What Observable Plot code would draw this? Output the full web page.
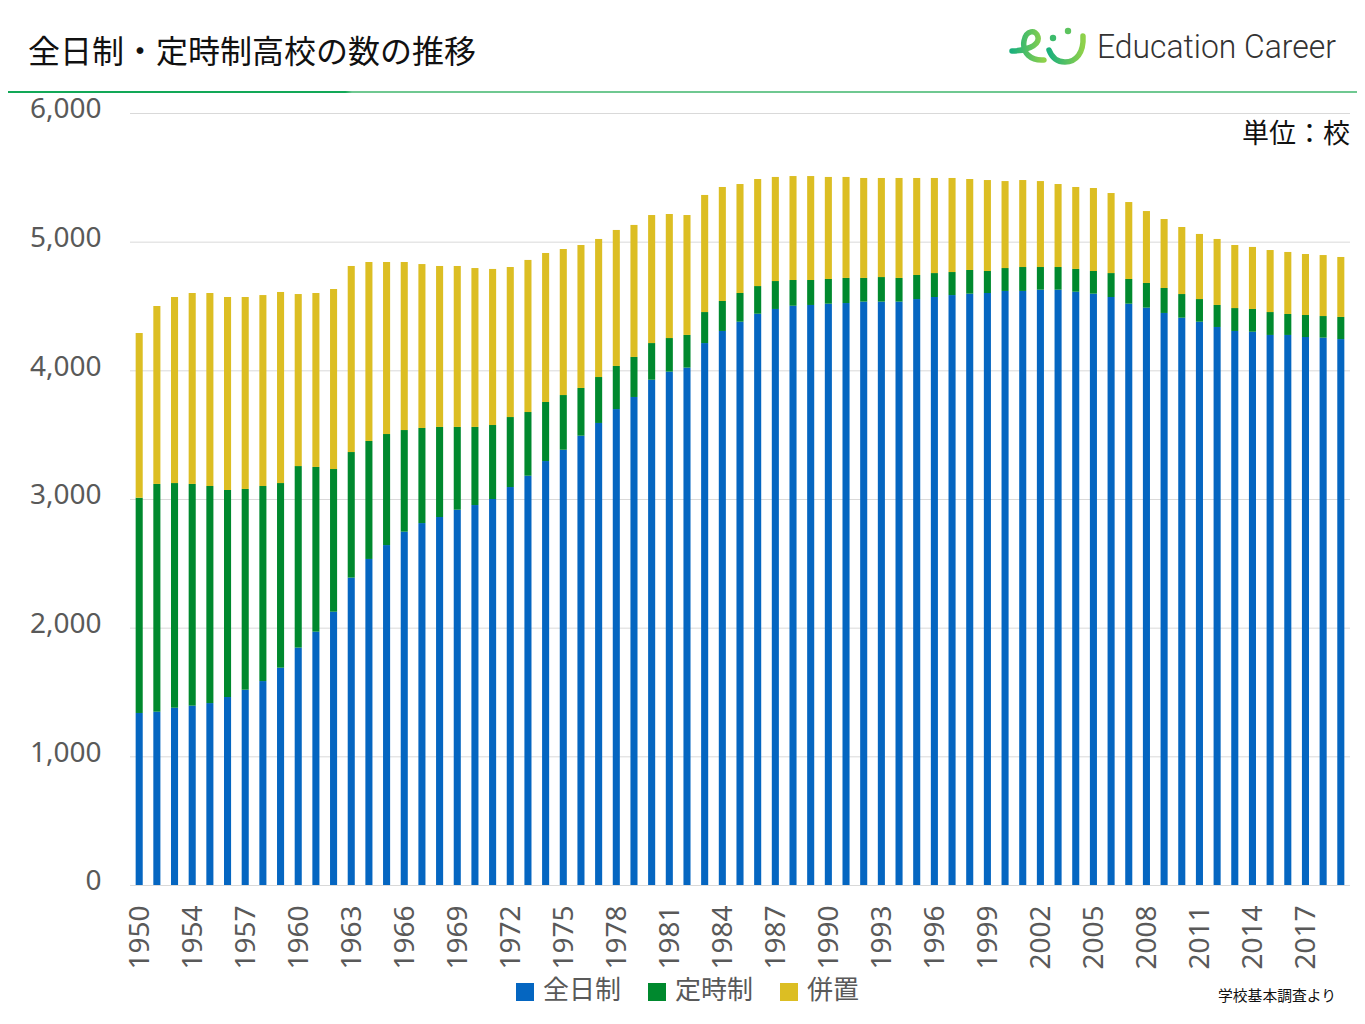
<!DOCTYPE html>
<html><head><meta charset="utf-8">
<script src="https://cdn.jsdelivr.net/npm/d3@7"></script>
<script src="https://cdn.jsdelivr.net/npm/@observablehq/plot@0.6"></script>
<style>
body{margin:0;background:#fff;}
#wrap{position:relative;width:1365px;height:1024px;overflow:hidden;font-family:"Noto Sans CJK JP",sans-serif;background:#fff;}
#title{position:absolute;left:28px;top:32px;font-size:32px;line-height:34px;color:#111;white-space:nowrap;}
#logo{position:absolute;left:1004px;top:18px;overflow:visible;}
#rule{position:absolute;left:8px;top:91px;width:1349px;height:2px;background:linear-gradient(to right,#12a857 0%,#12a857 25%,#6fc891 25.5%,#6fc891 100%);}
#unit{position:absolute;right:15px;top:117px;font-size:27px;line-height:30px;color:#111;white-space:nowrap;}
#chart{position:absolute;left:0;top:95px;}
.lg{position:absolute;top:973px;font-size:26px;line-height:30px;color:#595959;white-space:nowrap;}
.sw{position:absolute;top:983px;width:18px;height:18px;}
#source{position:absolute;left:1218px;top:985px;font-size:14.8px;line-height:20px;color:#111;white-space:nowrap;}
</style></head><body>
<div id="wrap">
  <div id="title">全日制・定時制高校の数の推移</div>
  <svg id="logo" width="358" height="56" viewBox="0 0 358 56">
    <defs>
      <linearGradient id="lgG" x1="0" x2="1" y1="0" y2="0">
        <stop offset="0" stop-color="#1bb07c"/>
        <stop offset="1" stop-color="#8fd14a"/>
      </linearGradient>
    </defs>
    <path d="M8,33 C20,33 36,28 34,19 C32,11 22,12 20,23 C18,35 27,43 40,42" fill="none" stroke="url(#lgG)" stroke-width="5.5" stroke-linecap="round"/>
    <path d="M45,32 C48,40 54,44 61,44 C72,44 80,35 79,18" fill="none" stroke="url(#lgG)" stroke-width="5.5" stroke-linecap="round"/>
    <circle cx="49" cy="20" r="3.2" fill="#3dbb6c"/>
    <circle cx="64" cy="13" r="3.2" fill="#5cc35e"/>
    <text x="93" y="40" font-family="Roboto, sans-serif" font-weight="300" font-size="33" fill="#333" textLength="239" lengthAdjust="spacingAndGlyphs">Education Career</text>
  </svg>
  <div id="rule"></div>
  <div id="unit">単位：校</div>
  <div id="chart"></div>
  <div id="legendBox"></div>
  <div id="source">学校基本調査より</div>
</div>
<script>
// categories (one survey year is absent between 1950 and 1954 in the source chart)
const years = ["1950","1951","1952","1954","1955","1956","1957","1958","1959","1960",
  "1961","1962","1963","1964","1965","1966","1967","1968","1969","1970",
  "1971","1972","1973","1974","1975","1976","1977","1978","1979","1980",
  "1981","1982","1983","1984","1985","1986","1987","1988","1989","1990",
  "1991","1992","1993","1994","1995","1996","1997","1998","1999","2000",
  "2001","2002","2003","2004","2005","2006","2007","2008","2009","2010",
  "2011","2012","2013","2014","2015","2016","2017","2018","2019"];

// 全日制 (full-time)
const fullTime = [1337,1347,1378,1394,1414,1461,1518,1585,1689,1845,
  1969,2124,2389,2534,2642,2746,2813,2860,2917,2953,
  3000,3093,3181,3295,3383,3492,3591,3699,3793,3927,
  3990,4021,4212,4306,4378,4440,4477,4502,4508,4518,
  4523,4534,4534,4534,4554,4570,4585,4596,4601,4617,
  4617,4627,4627,4611,4596,4570,4518,4487,4446,4409,
  4378,4337,4306,4300,4275,4275,4259,4254,4243];

// 定時制 (part-time)
const partTime = [1673,1770,1746,1723,1687,1609,1560,1516,1435,1411,
  1280,1109,976,917,863,790,739,700,643,607,
  575,544,495,459,425,371,357,335,311,285,
  261,254,241,233,223,215,217,200,194,192,
  195,184,191,184,187,186,179,184,171,178,
  186,176,176,177,176,186,192,192,194,184,
  176,171,178,177,178,163,171,168,172];

// 併置 (both)
const combined = [1280,1383,1446,1484,1500,1500,1492,1484,1485,1337,
  1352,1399,1446,1391,1337,1306,1274,1251,1251,1235,
  1213,1166,1182,1158,1135,1111,1073,1057,1026,995,
  964,932,910,886,847,832,809,808,808,793,
  785,777,770,777,754,739,731,707,707,676,
  676,668,645,637,645,622,598,559,536,521,
  506,513,490,482,482,482,474,474,466];

const seriesNames = ["全日制","定時制","併置"];
const seriesColors = ["#0566c1","#00892e","#dcbe23"];
const yTicks = [0,1000,2000,3000,4000,5000,6000];
const xTickLabels = ["1950","1954","1957","1960","1963","1966","1969","1972","1975","1978",
  "1981","1984","1987","1990","1993","1996","1999","2002","2005","2008","2011","2014","2017"];

const seriesValues = [fullTime, partTime, combined];
const rows = [];
years.forEach((yr, i) => {
  seriesNames.forEach((s, k) => rows.push({year: yr, series: s, value: seriesValues[k][i]}));
});

const chart = Plot.plot({
  width: 1365,
  height: 880,
  marginLeft: 130,
  marginRight: 15,
  marginTop: 18,
  marginBottom: 90,
  style: {fontFamily: '"Noto Sans", "Noto Sans CJK JP", sans-serif', fontSize: "28px", color: "#595959", background: "transparent", overflow: "visible"},
  x: {type: "band", domain: years, paddingInner: 0.6, paddingOuter: 0.32, axis: null},
  y: {domain: [0, 6000], axis: null},
  color: {domain: seriesNames, range: seriesColors},
  marks: [
    Plot.ruleY(yTicks, {y: d => d, stroke: "#d9d9d9", strokeWidth: 1}),
    Plot.barY(rows, {x: "year", y: "value", fill: "series", order: seriesNames}),
    Plot.text(yTicks, {y: d => d, text: d => d3.format(",")(d), frameAnchor: "left", dx: -29, dy: -4, textAnchor: "end", fill: "#595959", fontSize: 28}),
    Plot.text(xTickLabels, {x: d => d, text: d => d, frameAnchor: "bottom", dy: 20, rotate: -90, textAnchor: "end", lineAnchor: "middle", fill: "#595959", fontSize: 28})
  ]
});
document.getElementById("chart").appendChild(chart);

// legend
const legendLeft = [516, 648, 780];
const box = document.getElementById("legendBox");
seriesNames.forEach((s, k) => {
  const sw = document.createElement("div");
  sw.className = "sw";
  sw.style.left = legendLeft[k] + "px";
  sw.style.background = seriesColors[k];
  box.appendChild(sw);
  const t = document.createElement("div");
  t.className = "lg";
  t.style.left = (legendLeft[k] + 27) + "px";
  t.textContent = s;
  box.appendChild(t);
});
</script>
</body></html>
